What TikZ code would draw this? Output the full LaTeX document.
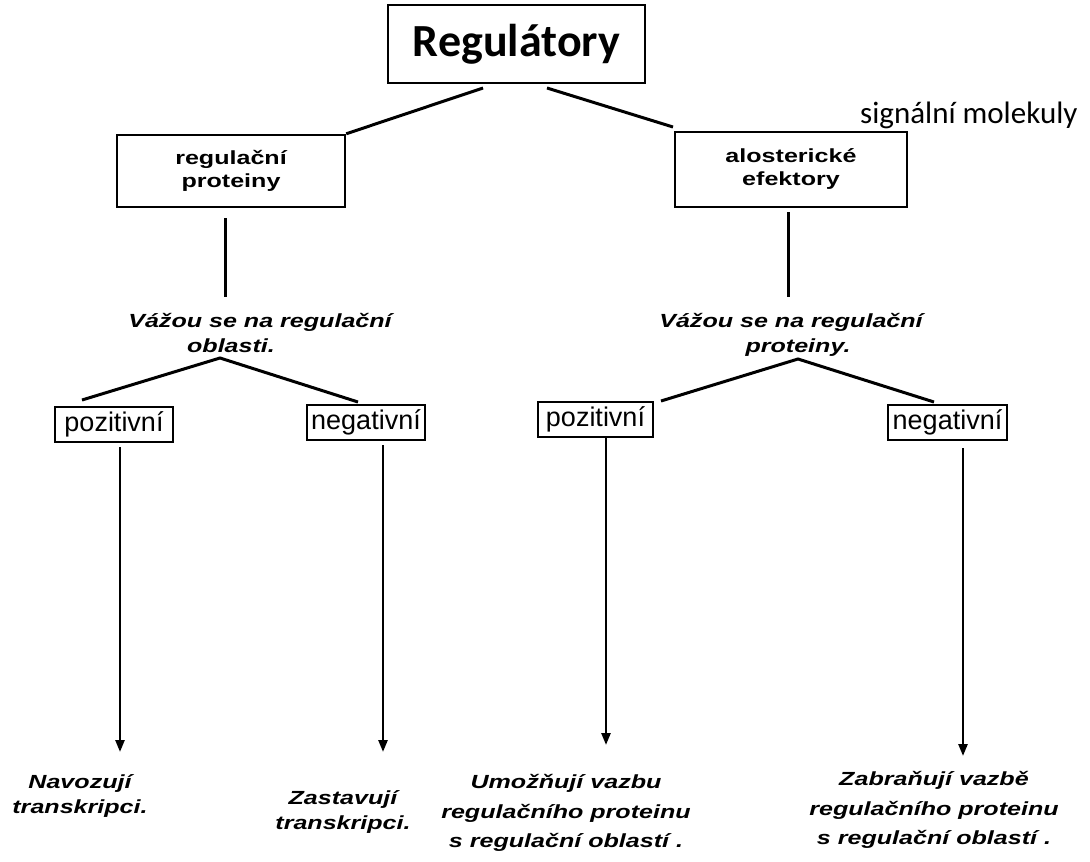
\documentclass[tikz,border=0pt]{standalone}
\usepackage{fontspec}
\setmainfont{Liberation Sans}
\newfontfamily\calib{Carlito}
\newfontfamily\scanfont[FakeStretch=1.32]{Liberation Sans}
\usetikzlibrary{arrows.meta}
\tikzset{
  topbox/.style={draw, line width=1.5pt, minimum width=257pt, minimum height=78pt, inner sep=0pt, font=\calib\bfseries\fontsize{46}{50}\selectfont},
  midbox/.style={draw, line width=2.4pt, inner sep=0pt, align=center, font=\scanfont\bfseries\fontsize{19}{23}\selectfont},
  smallbox/.style={draw, line width=2.4pt, inner sep=0pt, minimum height=35pt, font=\fontsize{27}{30}\selectfont},
  note/.style={align=center, inner sep=0pt, font=\scanfont\bfseries\itshape\fontsize{19}{25}\selectfont},
  note3/.style={align=center, inner sep=0pt, font=\scanfont\bfseries\itshape\fontsize{19}{29.5}\selectfont},
  link/.style={line width=3pt},
  arrowline/.style={line width=2.5pt, -{Triangle[width=9pt,length=12pt]}},
}
\begin{document}
\begin{tikzpicture}[x=1pt,y=-1pt]
\useasboundingbox (0,0) rectangle (1090,862);

% top
\node[topbox] (reg) at (516.5,44) {Regulátory};
\node[anchor=base west, inner sep=0pt, font=\calib\fontsize{31}{34}\selectfont] (sig) at (860,123) {signální molekuly};

% second level boxes
\node[midbox, minimum width=228pt, minimum height=72pt] (rp) at (231,171) {regulační\\proteiny};
\node[midbox, minimum width=232pt, minimum height=75pt] (ae) at (791,169.5) {alosterické\\efektory};

\coordinate (rl) at (483,88);
\coordinate (rr) at (547,88);
\coordinate (aetl) at (673,127);
\draw[link] (rl) -- (rp.north east);
\draw[link] (rr) -- (aetl);

% vertical lines to notes
\coordinate (v1a) at (225,218);
\coordinate (v1b) at (225,297);
\coordinate (v2a) at (788,212);
\coordinate (v2b) at (788,297);
\draw[link] (v1a) -- (v1b);
\draw[link] (v2a) -- (v2b);

\node[note] (n1) at (260,333) {Vážou se na regulační\\oblasti.\hspace*{58pt}};
\node[note] (n2) at (791,335) {Vážou se na regulační\\\hspace*{14pt}proteiny.};

% branches
\coordinate (ap1) at (220,358);
\coordinate (l1a) at (82,400);
\coordinate (l1b) at (358,402);
\coordinate (ap2) at (798,359);
\coordinate (l2a) at (661,401);
\coordinate (l2b) at (934,402);
\draw[link] (l1a) -- (ap1) -- (l1b);
\draw[link] (l2a) -- (ap2) -- (l2b);

\node[smallbox, minimum width=118pt] (p1) at (114,424.5) {pozitivní};
\node[smallbox, minimum width=118pt] (g1) at (366,422.5) {negativní};
\node[smallbox, minimum width=115pt] (p2) at (595.5,419.5) {pozitivní};
\node[smallbox, minimum width=119pt] (g2) at (947.5,422.5) {negativní};

% arrows
\coordinate (a1s) at (120,447); \coordinate (a1e) at (120,752);
\coordinate (a2s) at (383,445); \coordinate (a2e) at (383,752);
\coordinate (a3s) at (606,438); \coordinate (a3e) at (606,745);
\coordinate (a4s) at (963,448); \coordinate (a4e) at (963,756);
\draw[arrowline] (a1s) -- (a1e);
\draw[arrowline] (a2s) -- (a2e);
\draw[arrowline] (a3s) -- (a3e);
\draw[arrowline] (a4s) -- (a4e);

% bottom texts
\node[note] (t1) at (80,796) {Navozují\\transkripci.};
\node[note] (t2) at (343,812) {Zastavují\\transkripci.};
\node[note3] (t3) at (566,813) {Umožňují vazbu\\regulačního proteinu\\s regulační oblastí .};
\node[note3] (t4) at (934,810) {Zabraňují vazbě\\regulačního proteinu\\s regulační oblastí .};
\end{tikzpicture}
\end{document}
